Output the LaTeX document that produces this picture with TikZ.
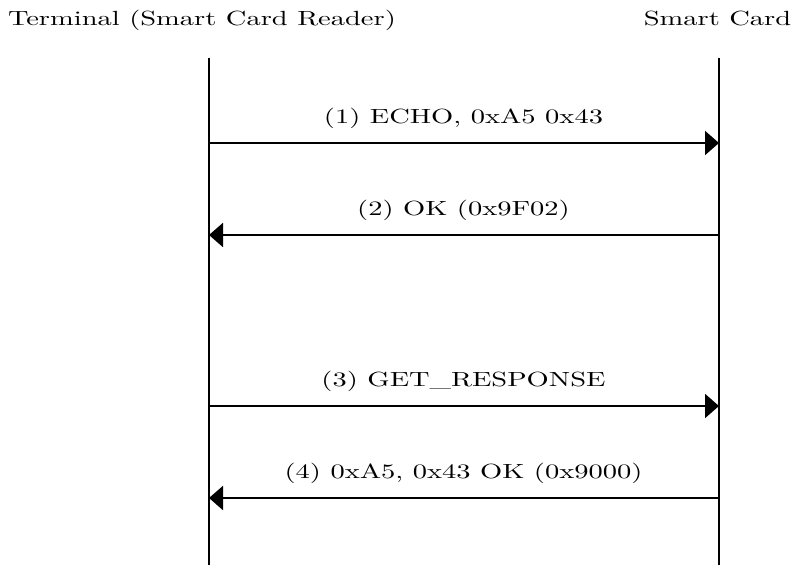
\documentclass[tikz,border=0pt]{standalone}
\usepackage{fontspec}
% Latin Modern, 10pt design, set wide
\setmainfont{lmroman10-regular.otf}[FakeStretch=1.39]
\usetikzlibrary{arrows.meta}
\begin{document}
\begin{tikzpicture}[x=1pt,y=-1pt,
  lifeline/.style={line width=1.9pt},
  msg/.style={line width=1.9pt,-{Triangle[length=14pt,width=24pt]}},
  party/.style={font=\fontsize{20.5}{24}\selectfont,inner sep=0pt,anchor=base},
  msglabel/.style={font=\fontsize{20.5}{24}\selectfont,inner sep=0pt,anchor=base}]
\useasboundingbox (0,0) rectangle (798,565);
% participants
\node[party] (term) at (202,25) {Terminal (Smart Card Reader)};
\node[party] (card) at (717.5,25) {Smart Card};
% lifelines
\coordinate (tTop) at (209,58);
\coordinate (tBot) at (209,565);
\coordinate (cTop) at (719,58);
\coordinate (cBot) at (719,565);
\draw[lifeline] (tTop) -- (tBot);
\draw[lifeline] (cTop) -- (cBot);
% message endpoints
\coordinate (t1) at (209,143); \coordinate (c1) at (719,143);
\coordinate (t2) at (209,235); \coordinate (c2) at (719,235);
\coordinate (t3) at (209,406); \coordinate (c3) at (719,406);
\coordinate (t4) at (209,498); \coordinate (c4) at (719,498);
% messages
\draw[msg] (t1) -- (c1);
\draw[msg] (c2) -- (t2);
\draw[msg] (t3) -- (c3);
\draw[msg] (c4) -- (t4);
\node[msglabel] (m1) at (463.5,123) {(1) ECHO, 0xA5 0x43};
\node[msglabel] (m2) at (463.5,215) {(2) OK (0x9F02)};
\node[msglabel] (m3) at (463.5,386) {(3) GET\_RESPONSE};
\node[msglabel] (m4) at (463.5,478) {(4) 0xA5, 0x43 OK (0x9000)};
\end{tikzpicture}
\end{document}
